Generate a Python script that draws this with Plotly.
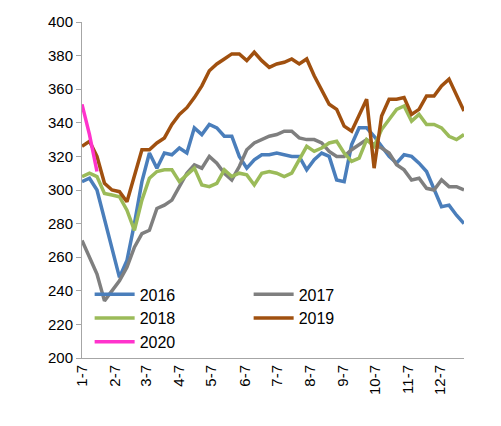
import pandas as pd
import plotly.graph_objects as go

dates = pd.date_range("2020-01-07", periods=52, freq="7D")
tick_dates = [f"2020-{m:02d}-07" for m in range(1, 13)]
tick_labels = [f"{m}-7" for m in range(1, 13)]

s2016 = [305, 307, 300, 282, 265, 248, 258, 280, 305, 322, 313, 322, 321, 325, 322, 337, 333, 339, 337, 332,
         332, 320, 313, 318, 321, 321, 322, 321, 320, 320, 312, 318, 322, 320, 306, 305, 327, 337, 337, 332,
         326, 320, 316, 321, 320, 316, 311, 300, 290, 291, 285, 280]
s2017 = [270, 260, 250, 234, 240, 246, 254, 266, 274, 276, 289, 291, 294, 302, 310, 315, 313, 320, 316, 310,
         306, 314, 324, 328, 330, 332, 333, 335, 335, 331, 330, 330, 328, 323, 320, 320, 324, 327, 330, 327,
         325, 322, 315, 312, 306, 307, 301, 300, 306, 302, 302, 300]
s2018 = [308, 310, 308, 298, 297, 296, 288, 276, 294, 307, 311, 312, 312, 305, 309, 313, 303, 302, 304, 312,
         308, 310, 309, 303, 310, 311, 310, 308, 310, 318, 326, 323, 325, 328, 329, 322, 317, 319, 330, 326,
         336, 342, 348, 350, 341, 345, 339, 339, 337, 332, 330, 333]
s2019 = [326, 329, 320, 304, 300, 299, 293, 308, 324, 324, 328, 331, 339, 345, 349, 355, 362, 371, 375, 378,
         381, 381, 377, 382, 377, 373, 375, 376, 378, 375, 378, 368, 360, 351, 348, 338, 335, 345, 354, 313,
         344, 354, 354, 355, 345, 348, 356, 356, 362, 366, 357, 347]
s2020 = [351, 333, 311]

series = [("2016", s2016, "#4a7ebb"), ("2017", s2017, "#7f7f7f"), ("2018", s2018, "#9bbb59"),
          ("2019", s2019, "#a0500f"), ("2020", s2020, "#ff33cc")]

fig = go.Figure()
for name, vals, col in series:
    fig.add_trace(go.Scatter(x=dates[:len(vals)], y=vals, name=name, mode="lines",
                             line=dict(color=col, width=3.5)))

font = dict(family="Liberation Sans, Arial, sans-serif", size=15, color="#000")
fig.update_layout(
    width=501, height=426, margin=dict(l=74, r=45, t=14, b=76),
    plot_bgcolor="white", paper_bgcolor="white", font=font,
    legend=dict(orientation="h", x=0.02, y=0.24, xanchor="left", yanchor="top",
                entrywidth=104, entrywidthmode="pixels", bgcolor="rgba(0,0,0,0)",
                font=dict(size=16), itemwidth=40, tracegroupgap=0),
    xaxis=dict(tickvals=tick_dates, ticktext=tick_labels, tickangle=-90,
               range=[dates[0], dates[-1]], showgrid=False, showline=True,
               linecolor="#a6a6a6", ticks="", zeroline=False, automargin=False),
    yaxis=dict(range=[200, 400], dtick=20, showgrid=False, showline=True,
               linecolor="#a6a6a6", ticks="outside", tickcolor="#a6a6a6", ticklen=5,
               zeroline=False, automargin=False),
)
fig.write_html("out.html")
